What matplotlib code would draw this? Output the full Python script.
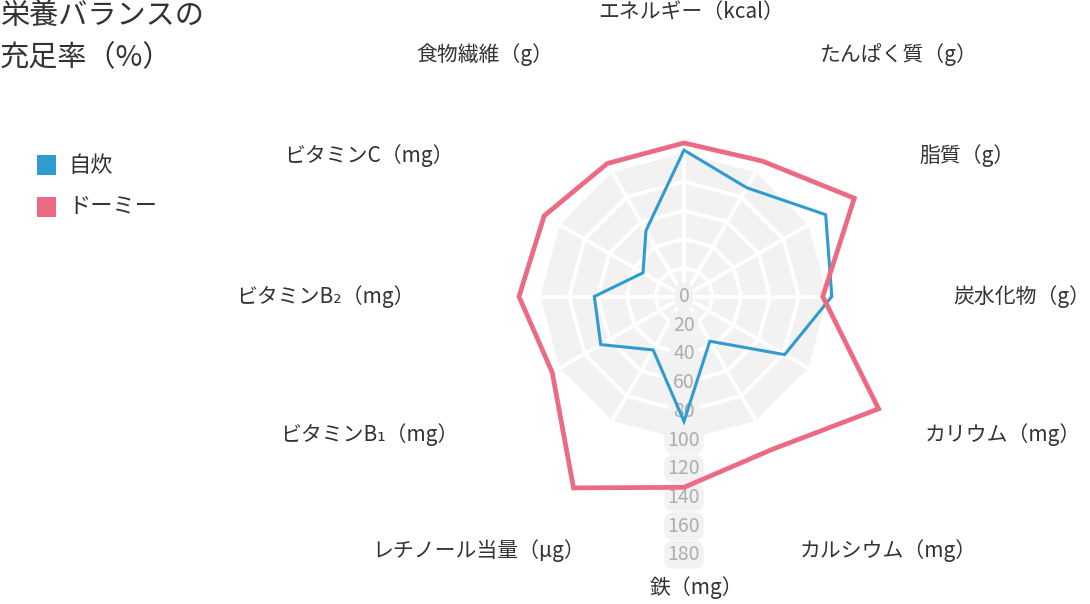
import numpy as np
import matplotlib.pyplot as plt
from matplotlib.patches import Polygon, Rectangle

plt.rcParams['font.family'] = ['Noto Sans CJK JP', 'DejaVu Sans']

# 栄養素（レーダーの軸）
nutrients = ['エネルギー（kcal）', 'たんぱく質（g）', '脂質（g）', '炭水化物（g）',
             'カリウム（mg）', 'カルシウム（mg）', '鉄（mg）', 'レチノール当量（μg）',
             'ビタミンB₁（mg）', 'ビタミンB₂（mg）', 'ビタミンC（mg）', '食物繊維（g）']
# 充足率（%）
jisui = [102, 87.5, 114, 103, 81, 36, 87, 43, 67, 62.5, 33, 53]
dormy = [107, 109, 137, 96.7, 156.6, 123, 133, 154, 106, 115, 112.5, 107]
series_names = ['自炊', 'ドーミー']
ticks = list(range(0, 181, 20))

colors = ['#2f9bd0', '#ec6a82']
W, H = 1090, 604
cx, cy = 684, 296.5      # center of the radar in pixels
k = 1.435                # pixels per percent

fig = plt.figure(figsize=(W / 100, H / 100), dpi=100)
ax = fig.add_axes([0, 0, 1, 1])
ax.set_xlim(-cx / k, (W - cx) / k)
ax.set_ylim(-(H - cy) / k, cy / k)
ax.axis('off')

n = len(nutrients)
theta = 2 * np.pi * np.arange(n) / n
sx, sy = np.sin(theta), np.cos(theta)

# gray background and white web
ax.add_patch(Polygon(np.c_[100 * sx, 100 * sy], closed=True, fc='#f2f2f2', ec='none', zorder=1))
for r in ticks[1:5]:
    ax.add_patch(Polygon(np.c_[r * sx, r * sy], closed=True, fill=False,
                         ec='white', lw=2.8, joinstyle='miter', zorder=2))
for i in range(n):
    ax.plot([0, 100 * sx[i]], [0, 100 * sy[i]], color='white', lw=2.8, zorder=2)

# scale labels going down from the center
for v in ticks:
    ax.text(0, -v, str(v), ha='center', va='center', fontsize=14, color='#adadad',
            bbox=dict(boxstyle='round,pad=0.18,rounding_size=0.5', fc='#f2f2f2', ec='none'),
            zorder=3)

# series
for vals, c, lw in [(jisui, colors[0], 2.2), (dormy, colors[1], 3.4)]:
    v = np.array(vals)
    ax.add_patch(Polygon(np.c_[v * sx, v * sy], closed=True, fill=False,
                         ec=c, lw=lw, joinstyle='miter', zorder=5))

# axis labels
nudge = [(7, -12), (0, -6), (0, -5), (-3, 0), (5, 2.5), (-20, 18.7),
         (12, 19.5), (37, 18.7), (10, 2.5), (3, 0), (5, -5), (5, -6)]
R = 272
for i, lab in enumerate(nutrients):
    px = cx + R * sx[i] + nudge[i][0]
    py = cy - R * sy[i] + nudge[i][1]
    if i in (0, 6):
        ha = 'center'
    elif sx[i] > 0:
        ha = 'left'
    else:
        ha = 'right'
    ax.text((px - cx) / k, (cy - py) / k, lab, ha=ha, va='center',
            fontsize=15, color='#333333')

# title
fig.text(0, 1 - 17 / H, '栄養バランスの', fontsize=21, color='#333333', va='center', ha='left')
fig.text(0, 1 - 58 / H, '充足率（%）', fontsize=21, color='#333333', va='center', ha='left')

# legend
for j, name in enumerate(series_names):
    top = 155 + j * 42
    fig.patches.append(Rectangle((37 / W, 1 - (top + 20) / H), 19 / W, 20 / H,
                                 transform=fig.transFigure, fc=colors[j], ec='none'))
    fig.text(68 / W, 1 - (top + 10) / H, name, fontsize=16, color='#333333',
             va='center', ha='left')

fig.savefig('out.png', dpi=100)
